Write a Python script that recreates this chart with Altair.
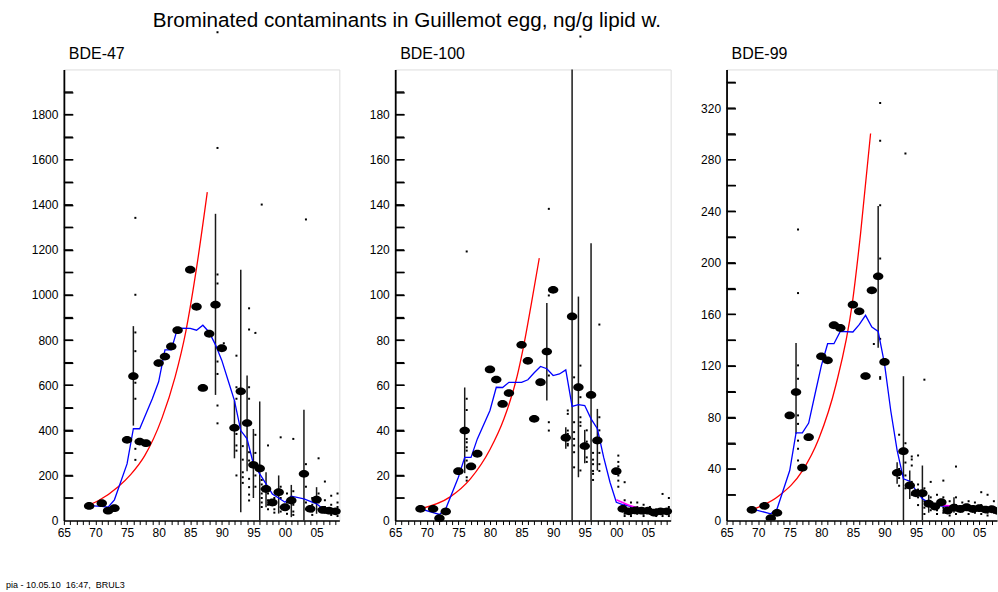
import altair as alt
import pandas as pd

FONT = "Liberation Sans"
ELLIPSE = "M-1,0A1,0.75,0,1,1,1,0A1,0.75,0,1,1,-1,0Z"

# ---------------- BDE-47 ----------------
b47_med_year = [1969, 1971, 1972, 1973, 1975, 1976, 1977, 1978, 1980, 1981, 1982, 1983, 1985, 1986, 1987,
                1988, 1989, 1990, 1992, 1993, 1994, 1995, 1996, 1997, 1998, 1999, 2000, 2001, 2003, 2004,
                2005, 2006, 2007, 2008]
b47_med_val = [65, 77, 44, 55, 358, 640, 350, 343, 698, 727, 772, 844, 1112, 948, 588,
               828, 957, 764, 411, 573, 432, 247, 231, 140, 80, 126, 59, 89, 207, 52,
               93, 47, 44, 41]
b47_rng_year = [1976, 1989, 1992, 1993, 1994, 1995, 1996, 1997, 1999, 2001, 2003, 2005]
b47_rng_lo = [421, 557, 276, 37, 219, 100, 0, 59, 31, 15, 0, 30]
b47_rng_hi = [862, 1360, 532, 1112, 643, 406, 528, 214, 200, 158, 491, 148]
b47_ind = {
    1976: [1342, 1001, 834, 751, 611, 540, 318, 269],
    1989: [2165, 1652, 1091, 1051, 705, 650, 510, 431],
    1990: [786],
    1992: [731, 591, 540, 384, 333, 310, 200],
    1993: [330, 270, 214, 192, 167],
    1994: [941, 847, 591, 540, 303, 266, 185, 148, 115, 89],
    1995: [832, 380, 300, 200, 150],
    1996: [1401, 180, 160, 140, 120, 100, 80, 60],
    1997: [333, 120, 90, 70, 50],
    1998: [100, 70, 50, 35],
    1999: [369, 150, 100, 60, 40],
    2000: [120, 80, 50, 30],
    2001: [362, 130, 70, 40, 25],
    2003: [1335, 250, 150, 80, 50],
    2004: [100, 70, 40, 25],
    2005: [276, 120, 80, 50],
    2006: [173, 90, 60, 35],
    2007: [110, 70, 40, 25],
    2008: [120, 80, 60, 35, 20],
}
b47_blue_year = [1969, 1971, 1972, 1973, 1975, 1976, 1977, 1978, 1979, 1980, 1981, 1982, 1983, 1985, 1986,
                 1987, 1988, 1989, 1990, 1991, 1992, 1993, 1994, 1995, 1996, 1997, 1998, 1999, 2000, 2001,
                 2003, 2005, 2006, 2008]
b47_blue_val = [66, 63, 59, 92, 251, 407, 407, 473, 540, 615, 757, 757, 853, 852, 844,
                866, 835, 779, 710, 621, 532, 399, 362, 251, 207, 163, 118, 100, 81, 108,
                96, 74, 52, 44]
b47_red_year = [1969, 1970.5, 1973.6, 1975.6, 1977.8, 1980.5, 1982.6, 1984.3, 1986, 1987.7]
b47_red_val = [70, 89, 150, 205, 288, 452, 636, 838, 1120, 1456]

# ---------------- BDE-100 ----------------
b100_med_year = [1969, 1971, 1972, 1973, 1975, 1976, 1977, 1978, 1980, 1981, 1982, 1983, 1985, 1986, 1987,
                 1988, 1989, 1990, 1992, 1993, 1994, 1995, 1996, 1997, 2000, 2001, 2002, 2003, 2004, 2005,
                 2006, 2007, 2008]
b100_med_val = [5.2, 5.2, 1.0, 4.0, 21.9, 39.9, 24, 29.6, 67, 62.5, 51.7, 56.5, 77.9, 70.8, 45.1,
                61.3, 74.9, 102.3, 36.7, 90.5, 59.1, 33, 55.7, 35.5, 21.9, 5.2, 4.1, 4.5, 4.4, 4.4,
                3.5, 4.1, 4.1]
b100_rng_year = [1976, 1989, 1992, 1993, 1994, 1995, 1996, 1997]
b100_rng_lo = [21, 53.2, 31.8, 0, 19.2, 25.4, 0, 22.2]
b100_rng_hi = [59, 96.4, 41.4, 200, 99.3, 40.2, 123, 49.5]
b100_ind = {
    1976: [119.3, 54, 49, 36.2, 34.7, 32.5, 31, 26.6, 19.2, 17.7],
    1989: [138.2, 99.8, 64.3, 43.6, 39.9],
    1992: [48.8, 47.3, 39.9, 38.4, 35.5, 34, 33.3],
    1993: [63.5, 43.6, 39.2, 36.2, 33.3, 30.3, 23.6],
    1994: [214.6, 68.7, 54.7, 45.8, 43.6, 42, 22.2],
    1995: [40, 35, 32, 28, 26],
    1996: [30, 27, 25, 22, 20.7, 18],
    1997: [86.9, 45.8, 40, 35, 30, 25, 22],
    2000: [28.8, 26, 24, 20, 17.7, 15],
    2001: [17, 9, 7, 5, 3, 2],
    2002: [8, 6, 4, 3, 2],
    2003: [8, 6, 5, 3],
    2004: [7, 5, 3, 2],
    2005: [6, 4, 3],
    2006: [5, 3, 2],
    2007: [11.8, 5, 3, 2],
    2008: [10, 6, 3, 2],
}
b100_blue_year = [1969, 1972, 1973, 1975, 1976, 1977, 1978, 1980, 1981, 1982, 1983, 1985, 1986, 1987, 1988,
                  1989, 1990, 1991, 1992, 1993, 1994, 1995, 1996, 1997, 1998, 1999, 2000, 2001, 2004, 2005,
                  2008]
b100_blue_val = [5.2, 2.7, 5.2, 19.2, 28, 28, 36.2, 48.8, 59.1, 59, 61.3, 61.3, 62.4, 65.5, 68.3,
                 67.3, 64.3, 65, 66.8, 50.6, 51.4, 51.0, 45.1, 40.7, 28, 17, 8.1, 7.1, 5.2, 4.4,
                 3.7]
b100_red_year = [1969, 1973.7, 1976.9, 1980, 1982.2, 1984.3, 1985.3, 1986.6, 1987.8]
b100_red_val = [5.2, 10.5, 18.5, 31.5, 45, 64, 77, 97, 116.3]
b100_mag_year = [2000, 2002, 2004, 2006, 2008]
b100_mag_val = [9.2, 6.8, 5.3, 4.4, 3.8]

# ---------------- BDE-99 ----------------
b99_med_year = [1969, 1971, 1972, 1973, 1975, 1976, 1977, 1978, 1980, 1981, 1982, 1983, 1985, 1986, 1987,
                1988, 1989, 1990, 1992, 1993, 1994, 1995, 1996, 1997, 1998, 1999, 2000, 2001, 2002, 2003,
                2004, 2005, 2006, 2007, 2008]
b99_med_val = [8.3, 11.4, 1.8, 6, 81.6, 99.7, 41, 64.7, 127.4, 124.3, 151.5, 149.4, 167.5, 162.3, 112.1,
               178.6, 189.5, 123, 37, 53.8, 27.2, 21.2, 21.2, 13, 10.9, 14.2, 7.8, 10, 9, 10.3,
               9, 9.6, 8.5, 8.8, 7.5]
b99_rng_year = [1976, 1989, 1992, 1993, 1994, 1996, 1997, 2001]
b99_rng_lo = [67.3, 134, 28.5, 0, 16.8, 0, 6, 6]
b99_rng_hi = [137.7, 244, 45.3, 112, 38.8, 42.7, 20, 18]
b99_ind = {
    1976: [225.8, 176.5, 120.4, 110, 81.6, 75, 62, 55.7, 46.6],
    1988: [137],
    1989: [324, 294.6, 244.7, 203.3, 141, 111.3, 110],
    1992: [66.6, 40, 33, 27],
    1993: [284.8, 60, 45, 35, 25],
    1994: [49.7, 47.4, 42.7, 30, 20],
    1995: [50.5, 28, 24, 18, 12],
    1996: [109.3, 25, 15, 10, 5],
    1997: [30, 18, 12, 8],
    1998: [20, 12, 8, 5],
    1999: [31, 18, 10, 6],
    2000: [15, 10, 6, 4],
    2001: [41.9, 18, 12, 8, 5],
    2002: [14, 10, 7],
    2003: [15, 11, 8, 5],
    2004: [14, 10, 6],
    2005: [22, 12, 8, 5],
    2006: [20, 10, 6, 4],
    2007: [15, 9, 6],
    2008: [18, 10, 6],
}
b99_blue_year = [1969, 1972, 1973, 1975, 1976, 1977, 1978, 1979, 1980, 1981, 1982, 1983, 1985, 1986, 1987,
                 1988, 1989, 1990, 1991, 1992, 1993, 1994, 1995, 1996, 1997, 1998, 2000, 2008]
b99_blue_val = [9.1, 5.2, 9.1, 38.8, 68.1, 68.1, 75.6, 98, 120, 137.2, 137.2, 146.8, 146.3, 152, 159.2,
                150.1, 146.8, 121.7, 85, 54.4, 32.4, 30.5, 23.3, 16.9, 14.2, 11.7, 10.9, 8]
b99_red_year = [1969, 1973.3, 1977, 1979.6, 1982.3, 1984.9, 1986.2, 1987.8]
b99_red_val = [8.3, 19.2, 38.5, 63.5, 105, 168.3, 222, 300.3]
b99_mag_year = [1999, 2002, 2005, 2008]
b99_mag_val = [12, 10.5, 9, 7.5]

TITLE = "Brominated contaminants in Guillemot egg, ng/g lipid w."
FOOTER = "pia - 10.05.10\u00a0\u00a016:47,\u00a0\u00a0BRUL3"

PX_PER_YEAR = 276 / 43.6
TICK_LEN = 9


def frame(years, vals):
    return pd.DataFrame({"year": years, "value": vals})


def panel(name, med, rng, ind, blue, red, mag, ymax, tick_step, label_step, width, clip, extra=None):
    xmax = 1965 + width / PX_PER_YEAR
    xs = alt.Scale(domain=[1965, xmax], nice=False, zero=False)
    ys = alt.Scale(domain=[0, ymax], nice=False, zero=True)
    xax = alt.Axis(values=list(range(1965, int(xmax) + 1)),
                   labelExpr="datum.value % 5 == 0 ? format(datum.value % 100, '02d') : ''",
                   tickSize=4, tickColor="black", tickWidth=1, domainColor="black", domainWidth=1.6,
                   labelFont=FONT, labelFontSize=12, labelColor="black", labelPadding=3,
                   labelFlush=False, labelOverlap=False, grid=False, title=None)
    yax = alt.Axis(orient="left", values=list(range(0, ymax, label_step)), format="d", ticks=False,
                   domainColor="black", domainWidth=1.8, labelFont=FONT, labelFontSize=12,
                   labelColor="black", labelPadding=6, labelFlush=False, labelOverlap=False,
                   grid=False, title=None)
    tick_vals = list(range(tick_step, ymax, tick_step))
    # second axis on the same scale, moved onto the left edge, to draw inward-pointing ticks
    tickax = alt.Axis(orient="right", offset=-width, values=tick_vals,
                      labels=False, domain=False, ticks=True, tickSize=TICK_LEN, tickWidth=1.4,
                      tickColor="black", grid=False, title=None, minExtent=0, maxExtent=10)
    X = alt.X("year:Q", scale=xs, axis=xax)
    Yn = alt.Y("value:Q", scale=ys, axis=None)

    rng_df = pd.DataFrame({"year": rng[0], "lo": rng[1], "hi": rng[2]})
    ind_rows = [(y, v) for y, vs in ind.items() for v in vs]
    ind_df = pd.DataFrame(ind_rows, columns=["year", "value"])
    tick_df = pd.DataFrame({"year": [1965.0] * len(tick_vals),
                            "year2": [1965.0 + TICK_LEN / PX_PER_YEAR] * len(tick_vals),
                            "value": tick_vals})

    layers = []
    layers.append(alt.Chart(rng_df).mark_rule(color="#1a1a1a", strokeWidth=1.5, clip=clip).encode(
        x=X, y=alt.Y("lo:Q", scale=ys, axis=yax), y2="hi:Q"))
    layers.append(alt.Chart(tick_df).mark_rule(color="black", strokeWidth=1.4).encode(
        x=X, x2="year2:Q", y=Yn))
    layers.append(alt.Chart(ind_df).mark_square(size=4, color="black", opacity=1, xOffset=2, clip=clip).encode(
        x=X, y=alt.Y("value:Q", scale=ys, axis=tickax)))
    layers.append(alt.Chart(frame(*red)).mark_line(color="#ff0000", strokeWidth=1.3, interpolate="monotone",
                                                   clip=clip).encode(x=X, y=Yn))
    layers.append(alt.Chart(frame(*blue)).mark_line(color="#0000ff", strokeWidth=1.3, clip=clip).encode(
        x=X, y=Yn))
    if mag is not None:
        layers.append(alt.Chart(frame(*mag)).mark_line(color="#ff00ff", strokeWidth=1.6,
                                                       interpolate="monotone", clip=clip).encode(x=X, y=Yn))
    layers.append(alt.Chart(frame(*med)).mark_point(shape=ELLIPSE, size=110, filled=True, color="black",
                                                    opacity=1, clip=clip).encode(x=X, y=Yn))
    layers.append(alt.Chart(pd.DataFrame({"t": [name]})).mark_text(
        align="left", baseline="alphabetic", font=FONT, fontSize=16, color="black").encode(
        text="t:N", x=alt.value(5), y=alt.value(-10)))
    if extra:
        for txt, xv, yv, fs in extra:
            layers.append(alt.Chart(pd.DataFrame({"t": [txt]})).mark_text(
                align="left", baseline="alphabetic", font=FONT, fontSize=fs, color="black").encode(
                text="t:N", x=alt.value(xv), y=alt.value(yv)))
    return alt.layer(*layers).resolve_axis(y="independent").properties(width=width, height=452)


p1 = panel("BDE-47", (b47_med_year, b47_med_val), (b47_rng_year, b47_rng_lo, b47_rng_hi), b47_ind,
           (b47_blue_year, b47_blue_val), (b47_red_year, b47_red_val), None,
           2000, 100, 200, 276, False,
           extra=[(TITLE, 89, -43, 20.7), (FOOTER, -58, 520, 9)])
p2 = panel("BDE-100", (b100_med_year, b100_med_val), (b100_rng_year, b100_rng_lo, b100_rng_hi), b100_ind,
           (b100_blue_year, b100_blue_val), (b100_red_year, b100_red_val), (b100_mag_year, b100_mag_val),
           200, 10, 20, 276, False)
p3 = panel("BDE-99", (b99_med_year, b99_med_val), (b99_rng_year, b99_rng_lo, b99_rng_hi), b99_ind,
           (b99_blue_year, b99_blue_val), (b99_red_year, b99_red_val), (b99_mag_year, b99_mag_val),
           350, 20, 40, 271, True)

chart = alt.hconcat(p1, p2, p3, spacing=56, bounds="flush").properties(
    padding={"left": 5, "top": 8, "right": 0, "bottom": 0}
).configure_view(stroke=None).configure(background="white")

chart.save("out.html", embed_options={"renderer": "svg", "actions": False})
